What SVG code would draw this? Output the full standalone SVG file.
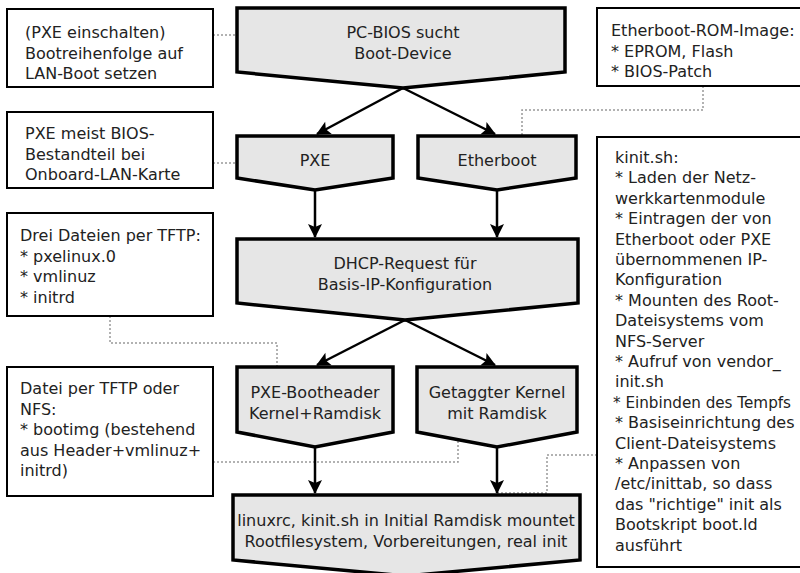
<svg xmlns="http://www.w3.org/2000/svg" width="800" height="573" viewBox="0 0 800 573">
<style>
.shape{fill:#e6e6e6;stroke:#000;stroke-width:3.5;stroke-linejoin:miter}
.note{fill:#fff;stroke:#000;stroke-width:2}
.t{font-family:"DejaVu Sans",sans-serif;font-size:16px;fill:#222}
.c{text-anchor:middle}
.arr{fill:none;stroke:#000;stroke-width:2.5;marker-end:url(#ah)}
.dot{fill:none;stroke:#999;stroke-width:1.5;stroke-dasharray:2 2}
</style>
<defs>
<marker id="ah" markerWidth="14" markerHeight="14" viewBox="0 0 14 14" refX="13" refY="7" orient="auto" markerUnits="userSpaceOnUse" overflow="visible">
<path d="M0,0 L14,7 L0,14 L3,7 Z" fill="#000"/>
</marker>
</defs>
<rect width="800" height="573" fill="#fff"/>
<g id="connectors">
<path class="dot" d="M213,35 H237"/>
<path class="dot" d="M213,163 H237"/>
<path class="dot" d="M703,86 V110 H522 V136"/>
<path class="dot" d="M110,316 V343 H277 V367"/>
<path class="dot" d="M213,462 H458 V440"/>
<path class="dot" d="M597,455 H547 V493 H497"/>
<path class="arr" d="M403,88 L317,134"/>
<path class="arr" d="M403,88 L495,134"/>
<path class="arr" d="M315,190 V237"/>
<path class="arr" d="M497,190 V237"/>
<path class="arr" d="M405,320 L317,365"/>
<path class="arr" d="M405,320 L495,365"/>
<path class="arr" d="M315,447 V493"/>
<path class="arr" d="M497,447 V493"/>
</g>
<g id="n-bios">
<path class="shape" d="M237,8 H565 V72 L403,88 L237,72 Z"/>
<text class="t c" x="403" y="38">PC-BIOS sucht</text>
<text class="t c" x="403" y="59">Boot-Device</text>
</g>
<g id="n-pxe">
<path class="shape" d="M237,136 H393 V178 L315,190 L237,178 Z"/>
<text class="t c" x="315" y="166">PXE</text>
</g>
<g id="n-etherboot">
<path class="shape" d="M418,136 H576 V178 L497,190 L418,178 Z"/>
<text class="t c" x="497" y="166">Etherboot</text>
</g>
<g id="n-dhcp">
<path class="shape" d="M237,239 H578 V303 L405,320 L237,303 Z"/>
<text class="t c" x="405" y="269">DHCP-Request für</text>
<text class="t c" x="405" y="290">Basis-IP-Konfiguration</text>
</g>
<g id="n-pxeboot">
<path class="shape" d="M237,367 H393 V432 L315,447 L237,432 Z"/>
<text class="t c" x="315" y="398">PXE-Bootheader</text>
<text class="t c" x="315" y="419">Kernel+Ramdisk</text>
</g>
<g id="n-tagged">
<path class="shape" d="M417,367 H577 V432 L497,447 L417,432 Z"/>
<text class="t c" x="497" y="398">Getaggter Kernel</text>
<text class="t c" x="497" y="419">mit Ramdisk</text>
</g>
<g id="n-linuxrc">
<path class="shape" d="M233,495 H580 V560 L406,576 L233,560 Z"/>
<text class="t c" x="406" y="526">linuxrc, kinit.sh in Initial Ramdisk mountet</text>
<text class="t c" x="406" y="547">Rootfilesystem, Vorbereitungen, real init</text>
</g>
<g id="note1">
<rect class="note" x="7" y="9" width="206" height="78"/>
<text class="t" x="25" y="38">(PXE einschalten)</text>
<text class="t" x="25" y="58.5">Bootreihenfolge auf</text>
<text class="t" x="25" y="79">LAN-Boot setzen</text>
</g>
<g id="note2">
<rect class="note" x="7" y="112" width="206" height="76"/>
<text class="t" x="25" y="139">PXE meist BIOS-</text>
<text class="t" x="25" y="159.5">Bestandteil bei</text>
<text class="t" x="25" y="180">Onboard-LAN-Karte</text>
</g>
<g id="note3">
<rect class="note" x="7" y="213" width="206" height="103"/>
<text class="t" x="20" y="241">Drei Dateien per TFTP:</text>
<text class="t" x="20" y="261.5">* pxelinux.0</text>
<text class="t" x="20" y="282">* vmlinuz</text>
<text class="t" x="20" y="302.5">* initrd</text>
</g>
<g id="note4">
<rect class="note" x="7" y="367" width="206" height="129"/>
<text class="t" x="20" y="394">Datei per TFTP oder</text>
<text class="t" x="20" y="414.5">NFS:</text>
<text class="t" x="20" y="435">* bootimg (bestehend</text>
<text class="t" x="20" y="455.5">aus Header+vmlinuz+</text>
<text class="t" x="20" y="476">initrd)</text>
</g>
<g id="note5">
<rect class="note" x="597" y="8" width="215" height="78"/>
<text class="t" x="611" y="36">Etherboot-ROM-Image:</text>
<text class="t" x="611" y="56.5">* EPROM, Flash</text>
<text class="t" x="611" y="77">* BIOS-Patch</text>
</g>
<g id="note6">
<rect class="note" x="597" y="137" width="215" height="430"/>
<text class="t" x="615" y="163">kinit.sh:</text>
<text class="t" x="615" y="183.4">* Laden der Netz-</text>
<text class="t" x="615" y="203.8">werkkartenmodule</text>
<text class="t" x="615" y="224.2">* Eintragen der von</text>
<text class="t" x="615" y="244.6">Etherboot oder PXE</text>
<text class="t" x="615" y="265">übernommenen IP-</text>
<text class="t" x="615" y="285.4">Konfiguration</text>
<text class="t" x="615" y="305.8">* Mounten des Root-</text>
<text class="t" x="615" y="326.2">Dateisystems vom</text>
<text class="t" x="615" y="346.6">NFS-Server</text>
<text class="t" x="615" y="367">* Aufruf von vendor_</text>
<text class="t" x="615" y="387.4">init.sh</text>
<text class="t" x="613" y="407.8" textLength="178" lengthAdjust="spacingAndGlyphs">* Einbinden des Tempfs</text>
<text class="t" x="615" y="428.2">* Basiseinrichtung des</text>
<text class="t" x="615" y="448.6">Client-Dateisystems</text>
<text class="t" x="615" y="469">* Anpassen von</text>
<text class="t" x="615" y="489.4">/etc/inittab, so dass</text>
<text class="t" x="615" y="509.8">das "richtige" init als</text>
<text class="t" x="615" y="530.2">Bootskript boot.ld</text>
<text class="t" x="615" y="550.6">ausführt</text>
</g>
</svg>
